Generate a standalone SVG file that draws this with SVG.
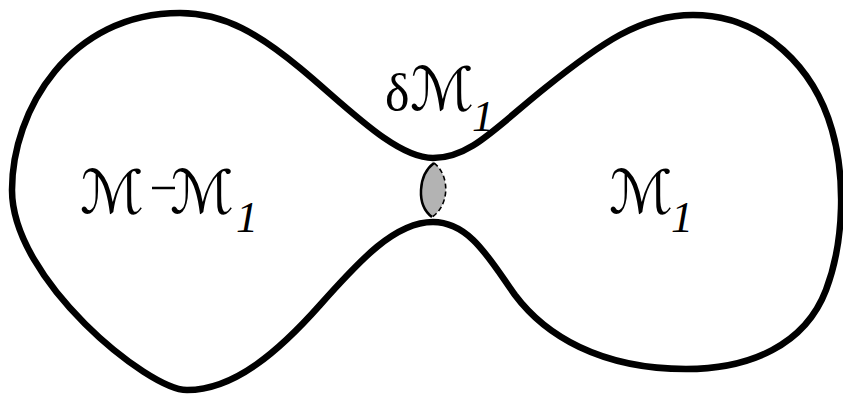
<svg xmlns="http://www.w3.org/2000/svg" width="843" height="396" viewBox="0 0 843 396">
<style>
.outline{fill:none;stroke:#000;stroke-width:6.5;stroke-linejoin:round}
.lens{fill:#b3b3b3;stroke:none}
.solid{fill:none;stroke:#000;stroke-width:2.5}
.dash{fill:none;stroke:#000;stroke-width:1.6;stroke-dasharray:5 3}
.m{font-family:"DejaVu Serif","DejaVu Sans",serif;font-style:italic;font-size:60px;fill:#000}
.d{font-family:"Liberation Serif",serif;font-size:52px;fill:#000}
.s{font-family:"Liberation Serif",serif;font-style:italic;font-size:44px;fill:#000}
</style>
<rect width="843" height="396" fill="#fff"/>
<g id="manifold">
<path class="outline" d="M433 158 C470 158 495 128 545 88 C600 44 640 15 693 15 C765 15 815 70 832 130 C845 175 845 240 826 290 C805 345 750 369 686 369 C600 369 545 335 515 295 C490 260 470 222 433 222 C395 222 360 260 320 305 C280 350 235 390 187 390 C148 390 12 280 12 190 C12 110 70 13 180 13 C225 13 260 35 300 68 C345 105 395 158 433 158 Z"/>
</g>
<g id="neck-section">
<path class="lens" d="M434 163 C418 175 416 205 432 217 C450 205 450 175 434 163 Z"/>
<path class="solid" d="M434 163 C418 175 416 205 432 217"/>
<path class="dash" d="M434 163 C450 175 450 205 432 217"/>
</g>
<g id="label-boundary">
<text class="d" x="385" y="110">δ</text>
<text class="m" x="410" y="110">ℳ</text>
<text class="s" x="472" y="131">1</text>
</g>
<g id="label-complement">
<text class="m" x="80" y="213">ℳ</text>
<line x1="152" y1="188" x2="175" y2="188" stroke="#000" stroke-width="2.5"/>
<text class="m" x="170" y="213">ℳ</text>
<text class="s" x="236" y="232">1</text>
</g>
<g id="label-m1">
<text class="m" x="609" y="213">ℳ</text>
<text class="s" x="671" y="232">1</text>
</g>
</svg>
